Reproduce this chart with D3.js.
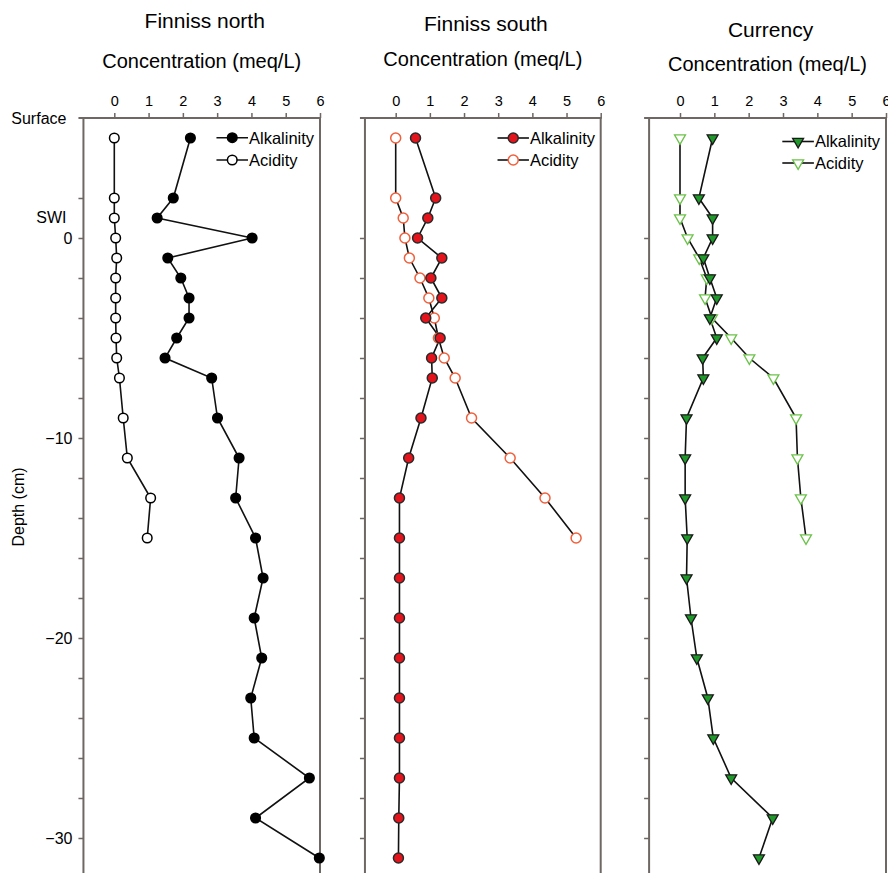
<!DOCTYPE html>
<html><head><meta charset="utf-8">
<script src="https://cdn.jsdelivr.net/npm/d3@7"></script>
<style>
body{margin:0;background:#fff;}
svg{display:block;font-family:Arial,"Liberation Sans",sans-serif;}
</style></head>
<body><svg id="chart" width="888" height="873"></svg>
<script>
// ---- data ----
const depth = [5,2,1,0,-1,-2,-3,-4,-5,-6,-7,-9,-11,-13,-15,-17,-19,-21,-23,-25,-27,-29,-31];
const northAlk = [2.22,1.72,1.25,4.02,1.56,1.94,2.18,2.18,1.82,1.48,2.84,3.01,3.64,3.54,4.12,4.34,4.08,4.30,3.98,4.08,5.69,4.12,5.98];
const northAcid = [0,0,0,0.04,0.07,0.04,0.04,0.04,0.05,0.07,0.15,0.26,0.38,1.06,0.96];
const southAlk = [0.58,1.17,0.94,0.64,1.35,1.03,1.35,0.88,1.30,1.05,1.07,0.74,0.38,0.11,0.11,0.11,0.11,0.11,0.11,0.11,0.11,0.09,0.08];
const southAcid = [0,0,0.22,0.27,0.40,0.71,0.97,1.13,1.25,1.42,1.74,2.22,3.35,4.37,5.28];
const currAlk = [0.95,0.55,0.95,0.95,0.68,0.87,1.07,0.87,1.07,0.66,0.68,0.19,0.15,0.15,0.21,0.19,0.32,0.49,0.81,0.97,1.49,2.70,2.30];
const currAcid = [0,0,0,0.22,0.56,0.78,0.73,0.93,1.49,2.02,2.72,3.38,3.42,3.52,3.67];
const panelTitles = ["Finniss north","Finniss south","Currency"];
const xTicks = [0,1,2,3,4,5,6];
const yLabelTicks = [0,-10,-20,-30];
const seriesNames = ["Alkalinity","Acidity"];
const xLabel = "Concentration (meq/L)";
const yLabel = "Depth (cm)";
const surfaceLabel = "Surface";
const swiLabel = "SWI";
const surfaceDepth = 6, swiDepth = 1;

// ---- layout ----
const svg = d3.select("#chart");
const topY = 118, bottomY = 873;
const y = d3.scaleLinear().domain([6, -31.75]).range([topY, bottomY]);
const frameColor = "#6e6763";

const panels = [
  {x0:114.3, x6:320, alk:northAlk, acid:northAcid, title:panelTitles[0], titleY:28, concY:68,
   alkFill:"#000", alkStroke:"#000", acidFill:"#fff", acidStroke:"#000", shape:"circle", r:4.8,
   legY:[137.7,160], leftLabels:true, extraTick:true},
  {x0:395.7, x6:600.7, alk:southAlk, acid:southAcid, title:panelTitles[1], titleY:31, concY:66,
   alkFill:"#e3141c", alkStroke:"#2a2a2a", acidFill:"#fff", acidStroke:"#f0603c", shape:"circle", r:5,
   legY:[138,160], leftLabels:false, extraTick:false},
  {x0:680, x6:886, alk:currAlk, acid:currAcid, title:panelTitles[2], titleY:36.5, concY:71,
   alkFill:"#1f9a2a", alkStroke:"#1a1a1a", acidFill:"#fff", acidStroke:"#6cc24a", shape:"tri", r:5,
   legY:[141.5,163], leftLabels:false, extraTick:false}
];

function drawMarker(g, px, py, p, fill, stroke){
  if(p.shape==="circle"){
    g.append("circle").attr("cx",px).attr("cy",py).attr("r",p.r)
      .attr("fill",fill).attr("stroke",stroke).attr("stroke-width",1.5);
  } else {
    g.append("path").attr("d", d3.symbol().type(d3.symbolTriangle).size(52)())
      .attr("transform",`translate(${px},${py}) rotate(180)`)
      .attr("fill",fill).attr("stroke",stroke).attr("stroke-width",1.3);
  }
}

panels.forEach((p,i)=>{
  const x = d3.scaleLinear().domain([0,6]).range([p.x0,p.x6]);
  const frameL = x(-0.9), frameR = x(6);
  const g = svg.append("g");
  const cx = (frameL+frameR)/2 + 0;

  // titles
  g.append("text").attr("x",cx+3).attr("y",p.titleY).attr("text-anchor","middle")
    .attr("font-size",21).attr("fill","#000").text(p.title);
  g.append("text").attr("x",cx).attr("y",p.concY).attr("text-anchor","middle")
    .attr("font-size",20).attr("fill","#000").text(xLabel);

  // frame verticals
  g.append("line").attr("x1",frameL).attr("x2",frameL).attr("y1",topY).attr("y2",bottomY+2)
    .attr("stroke",frameColor).attr("stroke-width",2);
  g.append("line").attr("x1",frameR).attr("x2",frameR).attr("y1",topY).attr("y2",bottomY+2)
    .attr("stroke",frameColor).attr("stroke-width",2);

  // top axis
  const xAxis = d3.axisTop(x).tickValues(xTicks).tickFormat(d3.format("d")).tickSize(5).tickSizeOuter(0);
  const xa = g.append("g").attr("transform",`translate(0,${topY})`).call(xAxis);
  xa.select(".domain").remove();
  xa.selectAll(".tick line").attr("stroke",frameColor).attr("stroke-width",1.5);
  xa.selectAll(".tick text").attr("font-size",14.5).attr("fill","#000").attr("font-family","Arial, Liberation Sans").attr("dy","-0.3em");
  g.append("line").attr("x1",frameL-5).attr("x2",frameR+1).attr("y1",topY).attr("y2",topY)
    .attr("stroke",frameColor).attr("stroke-width",2);

  // left axis ticks
  const tickVals = d3.range(0,-31,-2).concat(p.extraTick ? [2] : []);
  const yAxis = d3.axisLeft(y).tickValues(tickVals).tickSize(5)
    .tickFormat(d => (p.leftLabels && yLabelTicks.includes(d)) ? d3.format("d")(d) : "");
  const ya = g.append("g").attr("transform",`translate(${frameL},0)`).call(yAxis);
  ya.select(".domain").remove();
  ya.selectAll(".tick line").attr("stroke",frameColor).attr("stroke-width",1.5);
  ya.selectAll(".tick text").attr("font-size",16).attr("fill","#000").attr("font-family","Arial, Liberation Sans").attr("x",-11);

  if(p.leftLabels){
    g.append("text").attr("x",frameL-17).attr("y",y(surfaceDepth)).attr("dy","0.35em")
      .attr("text-anchor","end").attr("font-size",16).attr("fill","#000").text(surfaceLabel);
    g.append("text").attr("x",frameL-17).attr("y",y(swiDepth)-1).attr("dy","0.35em")
      .attr("text-anchor","end").attr("font-size",16).attr("fill","#000").text(swiLabel);
    g.append("text").attr("transform",`translate(24,${507}) rotate(-90)`)
      .attr("text-anchor","middle").attr("font-size",16).attr("fill","#000").text(yLabel);
  }

  // lines
  const line = d3.line().x(d=>x(d[0])).y(d=>y(d[1]));
  const alkPts = p.alk.map((v,k)=>[v,depth[k]]);
  const acidPts = p.acid.map((v,k)=>[v,depth[k]]);
  g.append("path").attr("d",line(acidPts)).attr("fill","none").attr("stroke","#111").attr("stroke-width",1.6);
  g.append("path").attr("d",line(alkPts)).attr("fill","none").attr("stroke","#111").attr("stroke-width",1.6);
  const mg = g.append("g");
  acidPts.forEach(d=>drawMarker(mg, x(d[0]), y(d[1]), p, p.acidFill, p.acidStroke));
  alkPts.forEach(d=>drawMarker(mg, x(d[0]), y(d[1]), p, p.alkFill, p.alkStroke));

  // legend
  const lx0 = x(2.98), lx1 = x(3.9), lm = (lx0+lx1)/2;
  [[p.alkFill,p.alkStroke],[p.acidFill,p.acidStroke]].forEach((c,k)=>{
    const ly = p.legY[k];
    g.append("line").attr("x1",lx0).attr("x2",lx1).attr("y1",ly).attr("y2",ly)
      .attr("stroke","#111").attr("stroke-width",1.6);
    drawMarker(g, lm, ly, p, c[0], c[1]);
    g.append("text").attr("x",lx1+1).attr("y",ly).attr("dy","0.36em")
      .attr("font-size",16.5).attr("fill","#000").text(seriesNames[k]);
  });
});
</script></body></html>
